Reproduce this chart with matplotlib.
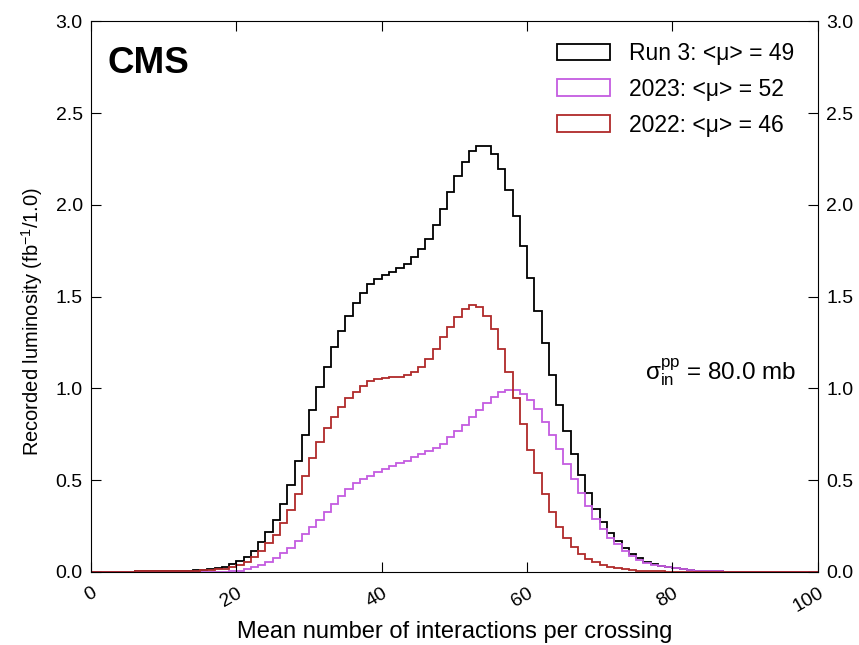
"""Pileup distribution, Run 3 (2022 + 2023)."""
import numpy as np
import matplotlib
matplotlib.use("Agg")
import matplotlib.pyplot as plt
from matplotlib.patches import Patch

plt.rcParams["font.family"] = ["Liberation Sans", "DejaVu Sans"]
plt.rcParams["mathtext.default"] = "regular"

# bin edges: integer mu from 0 to 100
edges = np.arange(0, 101)

# recorded luminosity per bin, fb^-1
run3 = [
    0.0, 0.0, 0.0, 0.001, 0.001, 0.002, 0.003, 0.003, 0.004, 0.004,
    0.005, 0.005, 0.006, 0.007, 0.009, 0.011, 0.015, 0.020, 0.029, 0.042,
    0.060, 0.084, 0.117, 0.162, 0.220, 0.283, 0.368, 0.474, 0.605, 0.746,
    0.882, 1.009, 1.118, 1.224, 1.314, 1.396, 1.465, 1.521, 1.567, 1.596,
    1.619, 1.636, 1.658, 1.678, 1.714, 1.759, 1.817, 1.892, 1.977, 2.070,
    2.159, 2.233, 2.295, 2.322, 2.322, 2.275, 2.197, 2.084, 1.941, 1.778,
    1.603, 1.422, 1.245, 1.073, 0.910, 0.768, 0.641, 0.528, 0.429, 0.343,
    0.270, 0.211, 0.171, 0.129, 0.098, 0.074, 0.056, 0.044, 0.034, 0.027,
    0.021, 0.015, 0.011, 0.008, 0.006, 0.004, 0.003, 0.002, 0.001, 0.001,
    0.0, 0.0, 0.0, 0.0, 0.0, 0.0, 0.0, 0.0, 0.0, 0.0,
]
y2023 = [
    0.0, 0.0, 0.0, 0.0, 0.0, 0.0, 0.0, 0.0, 0.0, 0.0,
    0.0, 0.0, 0.0, 0.0, 0.0, 0.001, 0.001, 0.002, 0.002, 0.004,
    0.007, 0.014, 0.025, 0.040, 0.056, 0.078, 0.102, 0.132, 0.170, 0.207,
    0.243, 0.285, 0.325, 0.372, 0.414, 0.450, 0.483, 0.506, 0.525, 0.543,
    0.560, 0.576, 0.594, 0.607, 0.625, 0.641, 0.657, 0.677, 0.699, 0.734,
    0.768, 0.802, 0.845, 0.884, 0.920, 0.955, 0.979, 0.992, 0.992, 0.970,
    0.937, 0.886, 0.819, 0.746, 0.668, 0.588, 0.505, 0.432, 0.360, 0.290,
    0.232, 0.184, 0.151, 0.114, 0.087, 0.066, 0.050, 0.040, 0.031, 0.025,
    0.020, 0.015, 0.011, 0.008, 0.006, 0.004, 0.003, 0.002, 0.001, 0.001,
    0.0, 0.0, 0.0, 0.0, 0.0, 0.0, 0.0, 0.0, 0.0, 0.0,
]
y2022 = [
    0.0, 0.0, 0.0, 0.001, 0.001, 0.002, 0.003, 0.003, 0.004, 0.004,
    0.005, 0.005, 0.006, 0.007, 0.008, 0.010, 0.012, 0.014, 0.018, 0.025,
    0.038, 0.056, 0.084, 0.116, 0.156, 0.200, 0.265, 0.336, 0.426, 0.524,
    0.619, 0.710, 0.783, 0.842, 0.900, 0.946, 0.982, 1.015, 1.042, 1.053,
    1.059, 1.060, 1.064, 1.071, 1.089, 1.118, 1.160, 1.215, 1.278, 1.336,
    1.391, 1.431, 1.453, 1.445, 1.396, 1.322, 1.217, 1.091, 0.950, 0.806,
    0.665, 0.537, 0.423, 0.325, 0.245, 0.185, 0.135, 0.097, 0.070, 0.053,
    0.038, 0.027, 0.020, 0.015, 0.011, 0.008, 0.006, 0.004, 0.003, 0.002,
    0.001, 0.0, 0.0, 0.0, 0.0, 0.0, 0.0, 0.0, 0.0, 0.0,
    0.0, 0.0, 0.0, 0.0, 0.0, 0.0, 0.0, 0.0, 0.0, 0.0,
]

labels = ["Run 3: <μ> = 49", "2023: <μ> = 52", "2022: <μ> = 46"]
colors = ["black", "#c45ce0", "#b02a2a"]
xticks = [0, 20, 40, 60, 80, 100]
yticks = [0.0, 0.5, 1.0, 1.5, 2.0, 2.5, 3.0]

fig = plt.figure(figsize=(8.59, 6.45), dpi=100)
ax = fig.add_axes([0.106, 0.1132, 0.846, 0.8536])

for vals, c in zip([run3, y2023, y2022], colors):
    ax.stairs(vals, edges, color=c, linewidth=1.3)

ax.set_xlim(0, 100)
ax.set_ylim(0, 3.0)
ax.set_xticks(xticks)
ax.set_yticks(yticks)
ax.set_xticklabels([str(v) for v in xticks], rotation=30, ha="right",
                   rotation_mode="anchor", fontsize=15)
ax.set_yticklabels([f"{v:.1f}" for v in yticks])
ax.tick_params(direction="in", length=7, top=True, right=True,
               labelright=True, labelsize=14, pad=6)
ax.tick_params(axis="x", pad=9)

ax.set_xlabel("Mean number of interactions per crossing", fontsize=17,
              labelpad=4)
ax.set_ylabel("Recorded luminosity (fb$^{-1}$/1.0)", fontsize=14.5)
ax.yaxis.set_label_coords(-0.063, 0.455)

ax.text(0.022, 0.955, "CMS", transform=ax.transAxes, fontsize=26.5,
        fontweight="bold", va="top", ha="left")
ax.text(0.97, 0.363, "σ$^{pp}_{in}$ = 80.0 mb", transform=ax.transAxes,
        fontsize=17.5, ha="right", va="center")

handles = [Patch(facecolor="none", edgecolor=c, linewidth=1.3) for c in colors]
ax.legend(handles, labels, loc="upper right", frameon=False, fontsize=16.5,
          handlelength=2.3, handleheight=0.75, labelspacing=0.56,
          handletextpad=0.85, bbox_to_anchor=(0.996, 1.0))

fig.savefig("out.png", dpi=100)
